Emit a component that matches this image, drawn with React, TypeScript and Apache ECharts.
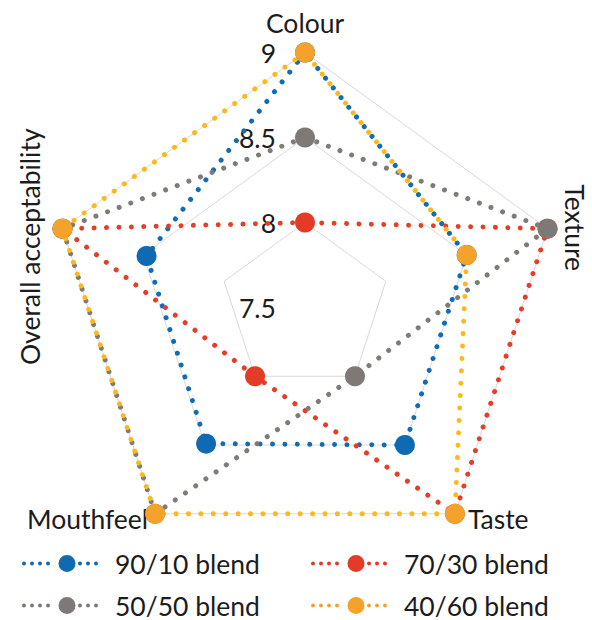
import React, { useEffect, useRef } from 'react';
import * as echarts from 'echarts';

// Indicators in ECharts order (counter-clockwise from the top)
const indicators = ['Colour', 'Overall acceptability', 'Mouthfeel', 'Taste', 'Texture'];
const indicatorAngles = [90, 162, 234, 306, 18];
const axisMin = 7.5;
const axisMax = 9;

const seriesNames = ['90/10 blend', '70/30 blend', '50/50 blend', '40/60 blend'];
// values: Colour, Overall acceptability, Mouthfeel, Taste, Texture
const blend9010 = [9, 8.48, 8.49, 8.5, 8.5];
const blend7030 = [8, 9, 8, 9, 9];
const blend5050 = [8.5, 9, 9, 8, 9];
const blend4060 = [9, 9, 9, 9, 8.5];
const seriesValues = [blend9010, blend7030, blend5050, blend4060];

const lineColors = ['#106db5', '#e63d28', '#807b78', '#ffb81c'];
const markerColors = ['#0e6ab3', '#e43b27', '#7e7976', '#f5a22b'];

const CX = 305;
const CY = 307.5;
const R = 255;
const FONT = 'Lato';
const FONT_SIZE = 26.5;
const TEXT_COLOR = '#1c1c1c';

function dot(x: number, y: number, r: number) {
  return `M${x - r} ${y} a${r} ${r} 0 1 0 ${2 * r} 0 a${r} ${r} 0 1 0 ${-2 * r} 0 Z `;
}
const legendIcon =
  'path://M0 0 M88 22 ' +
  [2, 10, 18, 26].map((x) => dot(x, 11, 2)).join('') +
  dot(45, 11, 8.5) +
  [58, 66, 74].map((x) => dot(x, 11, 2)).join('');

export default function App() {
  const ref = useRef<HTMLDivElement>(null);
  useEffect(() => {
    if (!ref.current) return;
    const chart = echarts.init(ref.current, undefined, { renderer: 'svg' });
    const vertex = (i: number) => {
      const a = (indicatorAngles[i] * Math.PI) / 180;
      return [CX + R * Math.cos(a), CY - R * Math.sin(a)];
    };
    const [tx, ty] = vertex(4);
    const [ox, oy] = vertex(1);
    const [mx, my] = vertex(2);
    const [sx, sy] = vertex(3);
    const textStyle = (extra: any) => ({
      fontFamily: FONT,
      fontSize: FONT_SIZE,
      fill: TEXT_COLOR,
      textVerticalAlign: 'middle',
      ...extra,
    });
    const legendPos = [
      [22, 550],
      [311, 550],
      [22, 592],
      [311, 592],
    ];
    chart.setOption({
      animation: false,
      backgroundColor: '#ffffff',
      radar: {
        center: [CX, CY],
        radius: R,
        startAngle: 90,
        splitNumber: 3,
        shape: 'polygon',
        indicator: indicators.map((name, i) => ({
          name,
          min: axisMin,
          max: axisMax,
          ...(i === 0 ? { axisLabel: { show: true } } : {}),
        })),
        axisName: { show: false },
        axisLine: { show: false },
        axisTick: { show: false },
        splitLine: { lineStyle: { color: '#d9d9d9', width: 1 } },
        splitArea: { show: false },
        axisLabel: {
          show: false,
          margin: 29,
          fontSize: FONT_SIZE,
          fontFamily: FONT,
          color: TEXT_COLOR,
        },
      },
      legend: seriesNames.map((name, k) => ({
        data: [{ name, itemStyle: { color: markerColors[k], borderWidth: 0 } }],
        left: legendPos[k][0],
        top: legendPos[k][1],
        orient: 'horizontal',
        padding: 0,
        itemWidth: 88,
        itemHeight: 22,
        icon: legendIcon,
        itemStyle: { borderWidth: 0 },
        selectedMode: false,
        textStyle: { fontSize: FONT_SIZE, lineHeight: 22, fontFamily: FONT, color: TEXT_COLOR },
      })),
      graphic: [
        { type: 'text', x: CX, y: CY - R - 30, style: textStyle({ text: 'Colour', textAlign: 'center' }) },
        {
          type: 'text',
          x: tx + 27,
          y: ty - 1,
          rotation: -Math.PI / 2,
          style: textStyle({ text: 'Texture', textAlign: 'center' }),
        },
        {
          type: 'text',
          x: ox - 32,
          y: oy + 18,
          rotation: Math.PI / 2,
          style: textStyle({ text: 'Overall acceptability', textAlign: 'center' }),
        },
        { type: 'text', x: mx - 7, y: my + 5, style: textStyle({ text: 'Mouthfeel', textAlign: 'right' }) },
        { type: 'text', x: sx + 13, y: sy + 5, style: textStyle({ text: 'Taste', textAlign: 'left' }) },
      ],
      series: seriesNames.map((name, k) => ({
        type: 'radar',
        name,
        z: 2 + k,
        symbol: 'circle',
        symbolSize: 20,
        lineStyle: { color: lineColors[k], width: 5, type: [0.01, 12.4], cap: 'round' },
        itemStyle: { color: markerColors[k] },
        emphasis: { disabled: true },
        data: [{ value: seriesValues[k], name }],
      })),
    });
    return () => chart.dispose();
  }, []);
  return (
    <div
      ref={ref}
      style={{ position: 'fixed', left: 0, top: 0, width: 592, height: 620, background: '#fff' }}
    />
  );
}
